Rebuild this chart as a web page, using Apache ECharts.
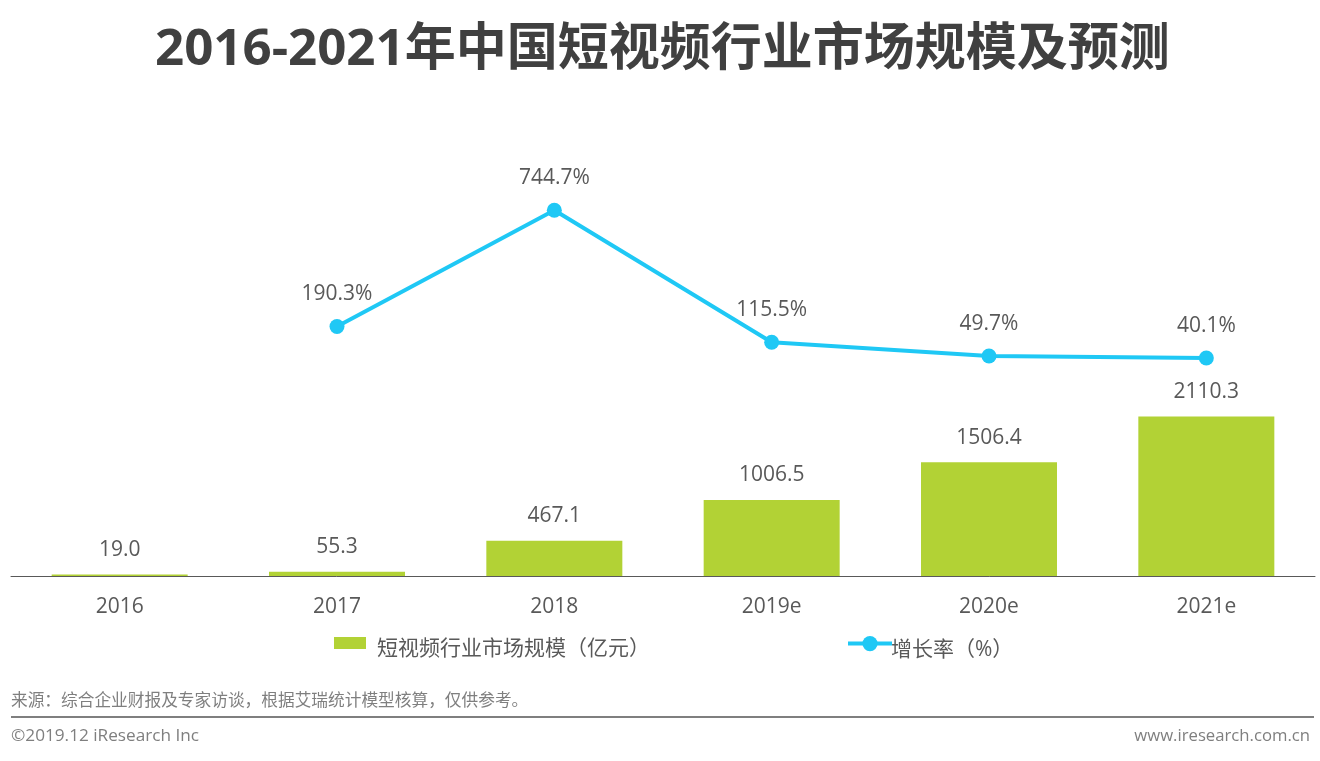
<!DOCTYPE html>
<html><head><meta charset="utf-8">
<style>html,body{margin:0;padding:0;background:#fff}#c{width:1320px;height:761px}</style>
<script src="https://cdn.jsdelivr.net/npm/echarts@6/dist/echarts.min.js"></script>
</head><body><div id="c"></div>
<script>
const FONT = '"Open Sans","Noto Sans CJK SC",sans-serif';
const categories = ['2016','2017','2018','2019e','2020e','2021e'];
const marketSize = [19.0,55.3,467.1,1006.5,1506.4,2110.3];
const growthRate = [null,190.3,744.7,115.5,49.7,40.1];
const barName = '短视频行业市场规模（亿元）';
const lineName = '增长率（%）';
const titleText = '2016-2021年中国短视频行业市场规模及预测';
const sourceText = '来源：综合企业财报及专家访谈，根据艾瑞统计模型核算，仅供参考。';
const copyrightText = '©2019.12 iResearch Inc';
const siteText = 'www.iresearch.com.cn';
const chart = echarts.init(document.getElementById('c'));
const wrap = n => '{t|' + n + '}';
chart.setOption({
  animation:false,
  backgroundColor:'#fff',
  textStyle:{fontFamily:FONT},
  title:{text:titleText,left:155,top:25,padding:0,
    textStyle:{fontFamily:FONT,fontSize:51,fontWeight:'bold',color:'#404040'}},
  grid:{left:11,right:5,top:100,bottom:185},
  legend:[
    {left:334,top:637,padding:0,itemWidth:32,itemHeight:12,formatter:wrap,
     textStyle:{rich:{t:{fontFamily:FONT,fontSize:21,color:'#595959',padding:[12,0,0,6]}}},
     data:[{name:barName,icon:'rect'}]},
    {left:846,top:636,padding:0,itemWidth:44,itemHeight:19,formatter:wrap,
     lineStyle:{width:4},
     textStyle:{rich:{t:{fontFamily:FONT,fontSize:21,color:'#595959',padding:[12,0,0,-6]}}},
     data:[{name:lineName}]}
  ],
  xAxis:{type:'category',data:categories,
    axisLine:{lineStyle:{color:'#595959',width:1}},axisTick:{show:false},
    axisLabel:{fontFamily:FONT,fontSize:21,color:'#595959',margin:21}},
  yAxis:[
    {type:'value',min:0,max:6300,show:false,splitLine:{show:false}},
    {type:'value',min:-1000,max:1271,show:false,splitLine:{show:false}}
  ],
  series:[
    {name:barName,type:'bar',data:marketSize,barWidth:136,
     itemStyle:{color:'#b2d235'},
     label:{show:true,position:'top',distance:14,fontFamily:FONT,fontSize:21,color:'#595959',
       formatter:p=>p.value.toFixed(1)}},
    {name:lineName,type:'line',yAxisIndex:1,data:growthRate,connectNulls:false,
     symbol:'circle',symbolSize:15,
     lineStyle:{color:'#1fc8f5',width:4},itemStyle:{color:'#1fc8f5'},
     label:{show:true,position:'top',distance:14,fontFamily:FONT,fontSize:21,color:'#595959',
       formatter:p=>p.value.toFixed(1)+'%'}}
  ],
  graphic:[
    {type:'text',left:11,top:693,style:{text:sourceText,font:'16.7px '+FONT,fill:'#7f7f7f'}},
    {type:'rect',shape:{x:11,y:716,width:1303,height:2},style:{fill:'#7f7f7f'}},
    {type:'text',left:11,top:728,style:{text:copyrightText,font:'17.2px '+FONT,fill:'#7f7f7f'}},
    {type:'text',right:10,top:728,style:{text:siteText,font:'16.7px '+FONT,fill:'#7f7f7f'}}
  ]
});
</script></body></html>
